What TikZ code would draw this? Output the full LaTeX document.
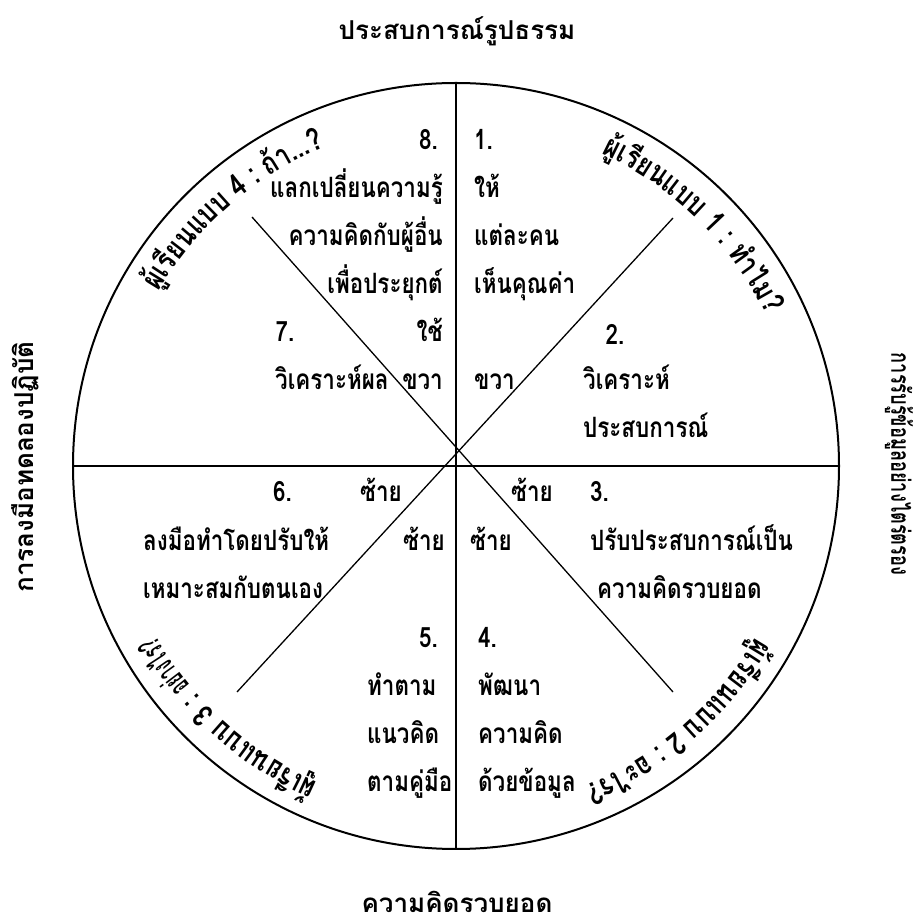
\documentclass[tikz,border=0pt]{standalone}
\usepackage{fontspec}
\newfontfamily\thaifont[Script=Thai]{Loma}
\newfontfamily\thainarrow[Script=Thai, FakeStretch=0.8]{Loma}
\newfontfamily\thaiside[Script=Thai, FakeStretch=0.7]{Loma}
\newfontfamily\thaisqueeze[Script=Thai, FakeStretch=0.5]{Loma}
\usetikzlibrary{positioning, decorations.text}

\begin{document}
\begin{tikzpicture}[
    x=1pt, y=1pt,
    node distance=48pt,
    body/.style={
        font=\thainarrow\bfseries\fontsize{28}{28}\selectfont,
        inner sep=0pt,
        text height=20pt,
        text depth=7pt
    },
    side/.style={
        font=\thaifont\bfseries\fontsize{26}{26}\selectfont,
        inner sep=0pt
    },
    spoke/.style={line width=1.3pt},
    wheellabel/.style={
        decorate,
        decoration={text along path, text align=center, text={#1}}
    }
]
\useasboundingbox (0,0) rectangle (919,924);

% wheel and spokes
\node[circle, draw, line width=2pt, minimum size=766pt, inner sep=0pt] (wheel) at (456,458) {};
\coordinate (nw) at (252,707);
\coordinate (se) at (673,232);
\coordinate (sw) at (237,232);
\coordinate (ne) at (673,706);
\draw[spoke] (wheel.north) -- (wheel.south);
\draw[spoke] (wheel.west) -- (wheel.east);
\draw[spoke] (nw) -- (se);
\draw[spoke] (sw) -- (ne);

% outer axis labels
\node[side, anchor=base] (concrete) at (457,884) {ประสบการณ์รูปธรรม};
\node[side, anchor=base] (abstract) at (457,12) {ความคิดรวบยอด};
\node[side, rotate=90] (active) at (25,457) {การลงมือทดลองปฏิบัติ};
\node[side, rotate=-90, font=\thaiside\bfseries\fontsize{26}{26}\selectfont] (reflect) at (899,460) {การรับรู้ข้อมูลอย่างไตร่ตรอง};

% learner types along the rim
\def\rimfont{\thainarrow\bfseries\fontsize{31}{31}\selectfont}
\def\rimsqueeze{\thaisqueeze\bfseries\fontsize{31}{31}\selectfont}
\path[wheellabel={|\rimfont|{ผู้}{เ}{รี}{ย}{น}{แ}{บ}{บ} {4} {:} {ถ้}{า}...?}]
    ([shift={(159:345)}]wheel.center) arc[start angle=159, end angle=103, radius=345];
\path[wheellabel={|\rimfont|{ผู้}{เ}{รี}{ย}{น}{แ}{บ}{บ} {1} {:} {ทำ}{ไ}{ม}?}]
    ([shift={(73:345)}]wheel.center) arc[start angle=73, end angle=18, radius=345];
\path[wheellabel={|\rimfont|{ผู้}{เ}{รี}{ย}{น}{แ}{บ}{บ} {2} {:} {อ}{ะ}{ไ}{ร}?}]
    ([shift={(-21:345)}]wheel.center) arc[start angle=-21, end angle=-77, radius=345];
\path[wheellabel={|\rimfont|{ผู้}{เ}{รี}{ย}{น}{แ}{บ}{บ} {3} {:} |\rimsqueeze|{อ}{ย่}{า}{ง}{ไ}{ร}?}]
    ([shift={(-102:345)}]wheel.center) arc[start angle=-102, end angle=-162, radius=345];

% quadrant 1 (upper right)
\node[body, anchor=west] (one) at (474,781) {1.};
\node[body, below=of one.west, anchor=west] (give) {ให้};
\node[body, below=of give.west, anchor=west] (each) {แต่ละคน};
\node[body, below=of each.west, anchor=west] (worth) {เห็นคุณค่า};
\node[body, below=96pt of worth.west, anchor=west] (rightA) {ขวา};
\node[body] (two) at (615,586) {2.};
\node[body, anchor=west] (analyse) at (583,541) {วิเคราะห์};
\node[body, below=of analyse.west, anchor=west] (exper) {ประสบการณ์};

% quadrant 4 (upper left)
\node[body, anchor=east] (eight) at (438,781) {8.};
\node[body, anchor=east] (share) at (443,733) {แลกเปลี่ยนความรู้};
\node[body, below=of share.east, anchor=east] (others) {ความคิดกับผู้อื่น};
\node[body, below=of others.east, anchor=east] (apply) {เพื่อประยุกต์};
\node[body, below=of apply.east, anchor=east] (use) {ใช้};
\node[body, below=of use.east, anchor=east] (rightB) {ขวา};
\node[body] (seven) at (285,589) {7.};
\node[body, anchor=west] (result) at (275,541) {วิเคราะห์ผล};

% quadrant 3 (lower left)
\node[body, anchor=east] (six) at (292,429) {6.};
\node[body] (leftA) at (381,429) {ซ้าย};
\node[body, anchor=west] (doit) at (143,380) {ลงมือทำโดยปรับให้};
\node[body, anchor=east] (leftB) at (445,380) {ซ้าย};
\node[body, below=of doit.west, anchor=west] (suit) {เหมาะสมกับตนเอง};
\node[body, anchor=east] (five) at (438,283) {5.};
\node[body, anchor=west] (follow) at (367,235) {ทำตาม};
\node[body, below=of follow.west, anchor=west] (idea) {แนวคิด};
\node[body, below=of idea.west, anchor=west] (manual) {ตามคู่มือ};

% quadrant 2 (lower right)
\node[body] (leftC) at (532,429) {ซ้าย};
\node[body, anchor=west] (three) at (590,429) {3.};
\node[body, anchor=west] (leftD) at (470,380) {ซ้าย};
\node[body, anchor=west] (adapt) at (590,380) {ปรับประสบการณ์เป็น};
\node[body, anchor=west] (concept) at (597,332) {ความคิดรวบยอด};
\node[body, anchor=west] (four) at (478,283) {4.};
\node[body, below=of four.west, anchor=west] (develop) {พัฒนา};
\node[body, below=of develop.west, anchor=west] (think) {ความคิด};
\node[body, below=of think.west, anchor=west] (data) {ด้วยข้อมูล};
\end{tikzpicture}
\end{document}
